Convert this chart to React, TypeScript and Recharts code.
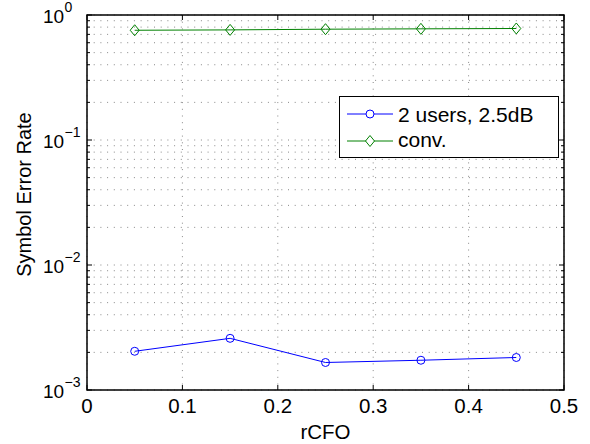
import { LineChart, Line, XAxis, YAxis, CartesianGrid, Legend, ReferenceArea } from 'recharts';

document.body.style.margin = '0';

const rcfo = [0.05, 0.15, 0.25, 0.35, 0.45];
const users25 = [0.00204, 0.00259, 0.00166, 0.00173, 0.00182];
const conv = [0.755, 0.76, 0.77, 0.775, 0.78];

const xTicks = [0, 0.1, 0.2, 0.3, 0.4, 0.5];
const yTicks = [
  0.001, 0.002, 0.003, 0.004, 0.005, 0.006, 0.007, 0.008, 0.009,
  0.01, 0.02, 0.03, 0.04, 0.05, 0.06, 0.07, 0.08, 0.09,
  0.1, 0.2, 0.3, 0.4, 0.5, 0.6, 0.7, 0.8, 0.9,
  1,
];
const yMajor: Record<number, string> = { 0.001: '−3', 0.01: '−2', 0.1: '−1', 1: '0' };

const data = rcfo.map((x, i) => ({ x, users: users25[i], conv: conv[i] }));

const W = 590;
const H = 444;
const margin = { top: 15, right: 26, bottom: 0, left: 0 };
const yAxisW = 87;
const xAxisH = 54;
const plotW = W - margin.left - margin.right - yAxisW;
const plotH = H - margin.top - margin.bottom - xAxisH;
const font = '"Liberation Sans", Arial, Helvetica, sans-serif';

const YTick = (props: any) => {
  const { x, y, payload } = props;
  const label = yMajor[payload.value];
  const len = label ? 5 : 3;
  return (
    <g>
      <line x1={x} x2={x + len} y1={y} y2={y} stroke="#000" />
      <line x1={x + plotW - len} x2={x + plotW} y1={y} y2={y} stroke="#000" />
      {label && (
        <g fontFamily={font} fill="#000">
          <text x={x - 44} y={y + 7.5} fontSize={19}>10</text>
          <text x={x - 22.5} y={y - 3} fontSize={14}>{label}</text>
        </g>
      )}
    </g>
  );
};

const XTick = (props: any) => {
  const { x, y, payload } = props;
  return (
    <g>
      <line x1={x} x2={x} y1={y} y2={y - 5} stroke="#000" />
      <line x1={x} x2={x} y1={y - plotH} y2={y - plotH + 5} stroke="#000" />
      <text x={x} y={y + 22.5} textAnchor="middle" fontFamily={font} fontSize={20.5} fill="#000">
        {payload.value}
      </text>
    </g>
  );
};

const Circle = (props: any) => {
  const { cx, cy, index } = props;
  return <circle key={index} cx={cx} cy={cy} r={4} fill="none" stroke="#0000ff" />;
};

const Diamond = (props: any) => {
  const { cx, cy, index } = props;
  return (
    <path
      key={index}
      d={`M${cx},${cy - 5.5}L${cx + 4.5},${cy}L${cx},${cy + 5.5}L${cx - 4.5},${cy}Z`}
      fill="none"
      stroke="#008000"
    />
  );
};

const LegendBox = () => (
  <svg width={220} height={62} style={{ display: 'block' }}>
    <rect x={0.5} y={0.5} width={219} height={61} fill="#fff" stroke="#000" />
    <line x1={8} x2={54} y1={18} y2={18} stroke="#0000ff" />
    <circle cx={31} cy={18} r={4} fill="#fff" stroke="#0000ff" />
    <line x1={8} x2={54} y1={45} y2={45} stroke="#008000" />
    <path d="M31,39.5L35.5,45L31,50.5L26.5,45Z" fill="#fff" stroke="#008000" />
    <g fontFamily={font} fontSize={21} fill="#000">
      <text x={59} y={25.5}>2 users, 2.5dB</text>
      <text x={59} y={51}>conv.</text>
    </g>
  </svg>
);

export default function App() {
  return (
    <div style={{ width: W, height: H, background: '#fff' }}>
      <LineChart width={W} height={H} data={data} margin={margin}>
        <CartesianGrid stroke="#888" strokeDasharray="1 5.7" />
        <XAxis
          dataKey="x"
          type="number"
          domain={[0, 0.5]}
          ticks={xTicks}
          interval={0}
          height={xAxisH}
          tickSize={0}
          tickMargin={0}
          axisLine={false}
          tickLine={false}
          tick={<XTick />}
          label={{
            value: 'rCFO',
            position: 'insideBottom',
            offset: 5,
            style: { fontFamily: font, fontSize: 20.5, fill: '#000' },
          }}
        />
        <YAxis
          scale="log"
          domain={[0.001, 1]}
          allowDataOverflow
          ticks={yTicks}
          interval={0}
          width={yAxisW}
          tickSize={0}
          tickMargin={0}
          axisLine={false}
          tickLine={false}
          tick={<YTick />}
          label={{
            content: (p: any) => {
              const vb = p.viewBox;
              const lx = vb.x + 31;
              const ly = vb.y + vb.height / 2 - 8;
              return (
                <text
                  x={lx}
                  y={ly}
                  transform={`rotate(-90 ${lx} ${ly})`}
                  textAnchor="middle"
                  fontFamily={font}
                  fontSize={20}
                  fill="#000"
                >
                  Symbol Error Rate
                </text>
              );
            },
          }}
        />
        <Line
          dataKey="users"
          name="2 users, 2.5dB"
          stroke="#0000ff"
          strokeWidth={1}
          dot={<Circle />}
          isAnimationActive={false}
        />
        <Line
          dataKey="conv"
          name="conv."
          stroke="#008000"
          strokeWidth={1}
          dot={<Diamond />}
          isAnimationActive={false}
        />
        <ReferenceArea
          x1={0}
          x2={0.5}
          y1={0.001}
          y2={1}
          fill="none"
          stroke="#000"
          strokeWidth={1.5}
          fillOpacity={0}
        />
        <Legend
          layout="horizontal"
          verticalAlign="middle"
          align="center"
          content={<LegendBox />}
          wrapperStyle={{ left: 339, top: 96, width: 220, height: 62 }}
        />
      </LineChart>
    </div>
  );
}
